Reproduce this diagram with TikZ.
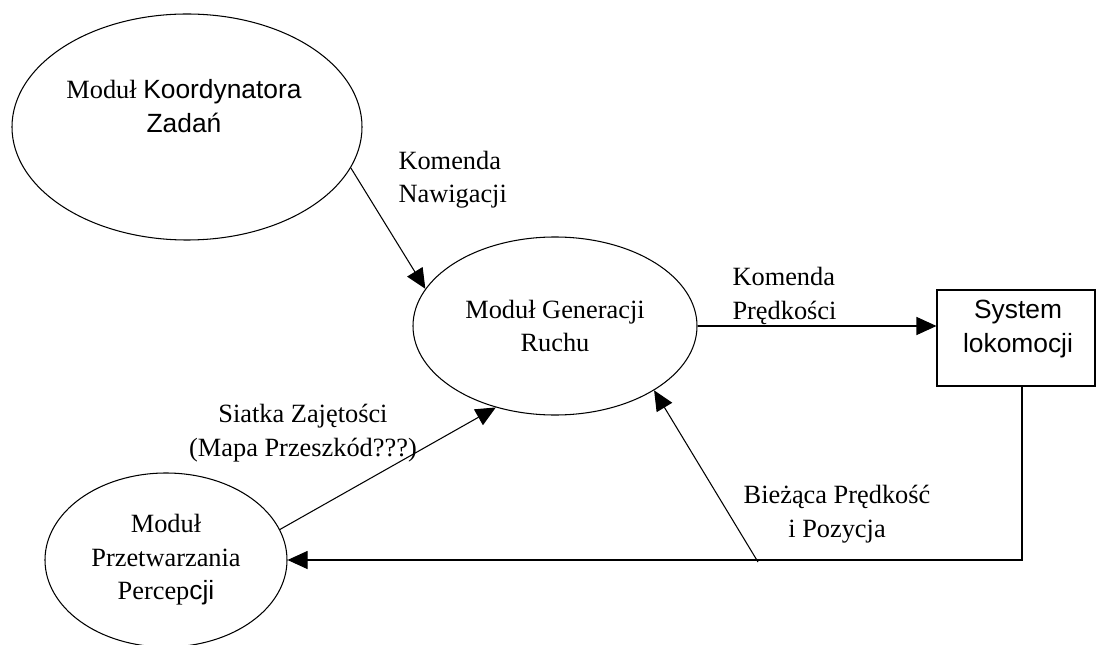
\documentclass[tikz,border=0pt]{standalone}
\usepackage{fontspec}
\setmainfont{Liberation Serif}
\setsansfont{Liberation Sans}
\usepackage{tikz}
\usetikzlibrary{shapes.geometric,arrows.meta}

\begin{document}
\begin{tikzpicture}[x=0.2mm,y=-0.2mm,line width=0.6pt,
            every node/.append style={font=\fontsize{15}{19}\selectfont},
            modul/.style={draw,ellipse,inner sep=0pt,align=center},
            blok/.style={draw,rectangle,inner sep=0pt,align=center},
            opis/.style={inner sep=0pt,align=center},
            strz/.style={-{Triangle[length=4mm,width=3.6mm]}}]
            \useasboundingbox (0,0) rectangle (1096,645);
            % moduly
            \node[modul,minimum width=70mm,minimum height=45.2mm] (koord) at (187,127) {};
            \node[opis] (koordtxt) at (184,106) {Moduł {\sffamily Koordynatora}\\{\sffamily Zadań}};
            \node[modul,minimum width=56.8mm,minimum height=35.6mm] (gen) at (555,326) {Moduł Generacji\\Ruchu};
            \node[modul,minimum width=48.4mm,minimum height=34.8mm] (perc) at (166,560) {Moduł\\Przetwarzania\\Percep{\sffamily cji}};
            \node[blok,minimum width=31.6mm,minimum height=19.2mm] (lok) at (1016,338) {};
            \node[opis] (loktxt) at (1018,329) {\sffamily System\\\sffamily lokomocji};
            % polaczenia
            \draw[strz] (koord.-14) -- (gen.164.5);
            \draw[strz] (gen.east) -- (gen.east -| lok.west);
            \draw[strz] (perc.15.7) -- (gen.234.5);
            \coordinate (zw) at (1022,562);
            \coordinate (odg) at (758,562);
            \draw[strz] (lok.south -| zw) |- (perc.east);
            \draw[strz] (odg) -- (gen.-33.4);
            % etykiety
            \node[opis,anchor=west,align=left] (nawig) at (398,180) {Komenda\\Nawigacji};
            \node[opis,anchor=west,align=left] (predk) at (732,296) {Komenda\\Prędkości};
            \node[opis] (siatka) at (303,433) {Siatka Zajętości\\(Mapa Przeszkód???)};
            \node[opis] (biez) at (837,514) {Bieżąca Prędkość\\i Pozycja};
\end{tikzpicture}
\end{document}
